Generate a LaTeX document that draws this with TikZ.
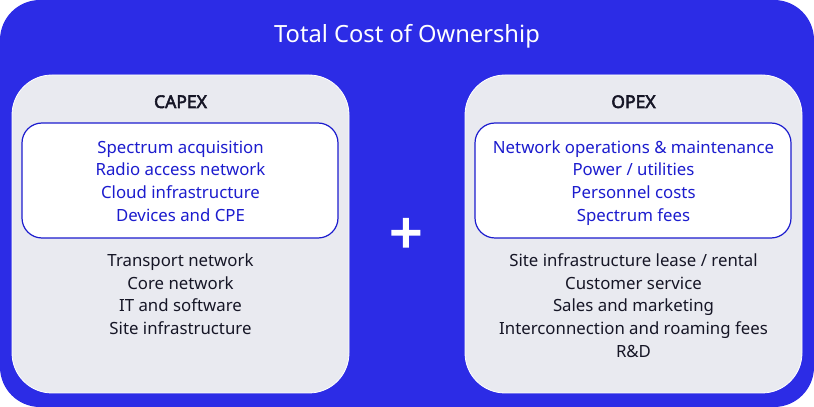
\documentclass[tikz,border=0pt]{standalone}
\usepackage{fontspec}
\setmainfont{Noto Sans}
\newfontfamily\headfont{Noto Sans}[FakeBold=3]
\newfontfamily\plusfont{Noto Sans}[FakeBold=3]
\definecolor{tcoblue}{RGB}{44,44,230}
\definecolor{itemblue}{RGB}{28,28,206}
\definecolor{panelgray}{RGB}{233,234,240}
\definecolor{itemdark}{RGB}{22,22,38}
\tikzset{
  panel/.style={draw=white,line width=0.8pt,fill=panelgray,rounded corners=40pt},
  keybox/.style={draw=itemblue,line width=1.2pt,fill=white,rounded corners=20pt},
  item/.style={anchor=base,inner sep=0pt,font=\fontsize{16.8}{20}\selectfont},
  head/.style={anchor=base,inner sep=0pt,text=itemdark,font=\headfont\fontsize{17.5}{20}\selectfont},
}
\begin{document}
\begin{tikzpicture}[x=1pt,y=1pt]
\useasboundingbox (0,0) rectangle (814,407);
%background
\fill[tcoblue,rounded corners=40pt] (0,0) rectangle (814,407);
\node[anchor=base,inner sep=0pt,text=white,font=\fontsize{23.7}{28}\selectfont] (title) at (407,364) {Total Cost of Ownership};
%panels
\draw[panel] (12,14) rectangle (349,332);
\draw[panel] (465,14) rectangle (802,332);
\draw[keybox] (22,169) rectangle (338,284);
\draw[keybox] (475,169) rectangle (791,284);
%headings
\node[head] (capex) at (180.5,299) {CAPEX};
\node[head] (opex) at (633.5,299) {OPEX};
%capex items
\foreach \t [count=\i] in {Spectrum acquisition,Radio access network,Cloud infrastructure,Devices and CPE}
    \node[item,text=itemblue] (capexkey\i) at (180.5,{276.2-22.6*\i}) {\t};
\foreach \t [count=\i] in {Transport network,Core network,IT and software,Site infrastructure}
    \node[item,text=itemdark] (capexrest\i) at (180.5,{162.9-22.6*\i}) {\t};
%opex items
\foreach \t [count=\i] in {Network operations \& maintenance,Power / utilities,Personnel costs,Spectrum fees}
    \node[item,text=itemblue] (opexkey\i) at (633.5,{276.2-22.6*\i}) {\t};
\foreach \t [count=\i] in {Site infrastructure lease / rental,Customer service,Sales and marketing,Interconnection and roaming fees,R\&D}
    \node[item,text=itemdark] (opexrest\i) at (633.5,{162.9-22.6*\i}) {\t};
%plus
\node[text=white,font=\plusfont\fontsize{58}{60}\selectfont] (plus) at (406,171) {+};
\end{tikzpicture}
\end{document}
